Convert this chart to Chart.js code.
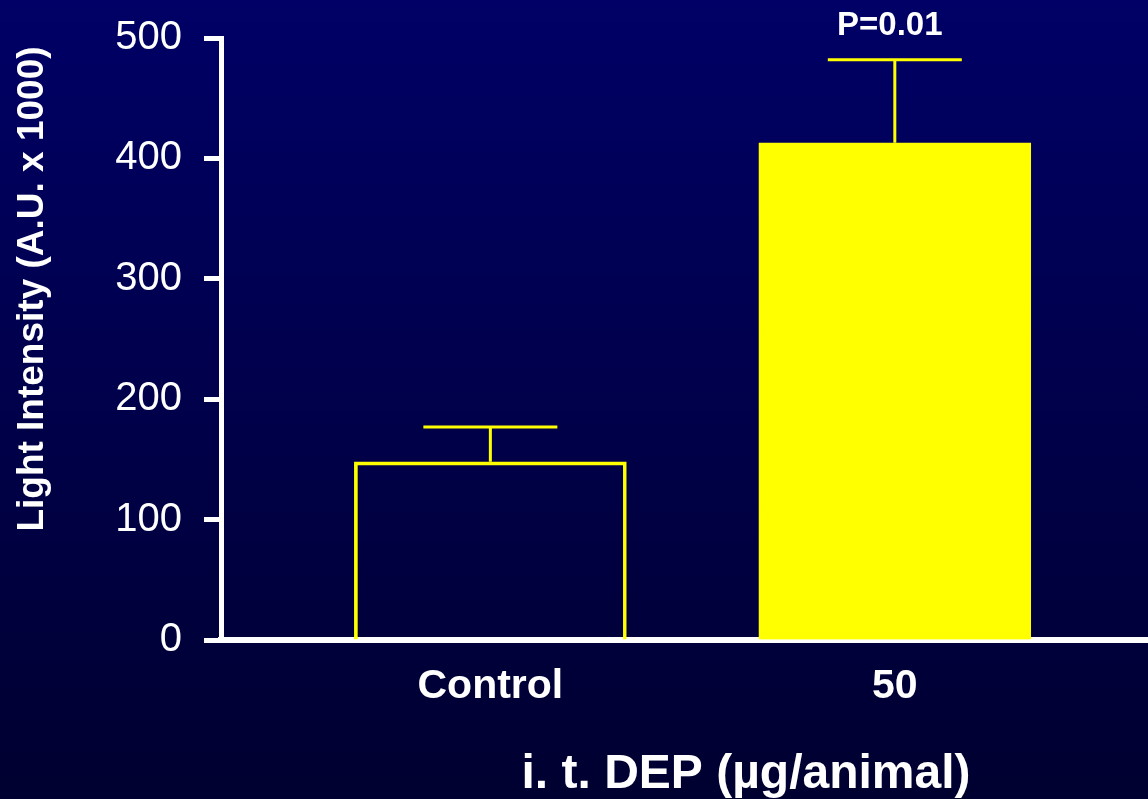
<!DOCTYPE html>
<html>
<head>
<meta charset="utf-8">
<script src="https://cdn.jsdelivr.net/npm/chart.js@4/dist/chart.umd.min.js"></script>
<style>
html,body{margin:0;padding:0;background:#000050;overflow:hidden;}
#c{display:block;}
</style>
</head>
<body>
<canvas id="c" width="1148" height="799"></canvas>
<script>
// ---- data ----
const categories = ['Control', '50'];
const means = [148, 413];
const upperErrors = [177, 482];
const yTickValues = [0, 100, 200, 300, 400, 500];
const pLabel = 'P=0.01';
const yTitle = 'Light Intensity (A.U. x 1000)';
const xTitle = 'i. t. DEP (µg/animal)';

const FONT = "'Liberation Sans', Arial, sans-serif";
const YELLOW = '#ffff00';

const bgPlugin = {
  id: 'bg',
  beforeDraw(chart) {
    const {ctx, width, height} = chart;
    const g = ctx.createLinearGradient(0, 0, 0, height);
    g.addColorStop(0, '#000066');
    g.addColorStop(1, '#000030');
    ctx.save();
    ctx.fillStyle = g;
    ctx.fillRect(0, 0, width, height);
    ctx.restore();
  }
};

const errPlugin = {
  id: 'err',
  afterDatasetsDraw(chart) {
    const {ctx} = chart;
    const xs = chart.scales.x, ys = chart.scales.y;
    ctx.save();
    ctx.strokeStyle = YELLOW;
    ctx.lineWidth = 3;
    categories.forEach((c, i) => {
      const x = xs.getPixelForValue(i);
      const yb = ys.getPixelForValue(means[i]);
      const yt = ys.getPixelForValue(upperErrors[i]);
      ctx.beginPath();
      ctx.moveTo(x, yb);
      ctx.lineTo(x, yt);
      ctx.moveTo(x - 67, yt);
      ctx.lineTo(x + 67, yt);
      ctx.stroke();
    });
    ctx.restore();
  }
};

const textPlugin = {
  id: 'texts',
  afterDraw(chart) {
    const {ctx} = chart;
    const xs = chart.scales.x;
    ctx.save();
    ctx.fillStyle = '#ffffff';
    ctx.textAlign = 'center';
    ctx.textBaseline = 'alphabetic';
    // P label
    ctx.font = 'bold 33px ' + FONT;
    ctx.fillText(pLabel, xs.getPixelForValue(1) - 5, 35);
    // x title
    ctx.font = 'bold 48px ' + FONT;
    ctx.fillText(xTitle, 746, 788);
    // y title
    ctx.font = 'bold 37px ' + FONT;
    ctx.translate(43, 289);
    ctx.rotate(-Math.PI / 2);
    ctx.fillText(yTitle, 0, 0);
    ctx.restore();
  }
};

new Chart(document.getElementById('c'), {
  type: 'bar',
  data: {
    datasets: [{
      data: categories.map((c, i) => ({x: i, y: means[i]})),
      backgroundColor: ['rgba(0,0,0,0)', YELLOW],
      borderColor: YELLOW,
      borderWidth: 3,
      borderSkipped: 'bottom',
      barThickness: 272
    }]
  },
  options: {
    responsive: false,
    animation: false,
    devicePixelRatio: 1,
    layout: {padding: {top: 38, left: 0, right: 0, bottom: 0}},
    plugins: {legend: {display: false}, tooltip: {enabled: false}},
    scales: {
      x: {
        type: 'linear',
        offset: false,
        min: -0.666,
        max: 1.626,
        afterBuildTicks(scale) {
          scale.ticks = categories.map((c, i) => ({value: i}));
        },
        afterFit(scale) { scale.height = 159; scale.paddingLeft = 0; scale.paddingRight = 0; },
        grid: {display: false, drawTicks: false, offset: false},
        border: {display: true, color: '#ffffff', width: 6},
        ticks: {
          autoSkip: false,
          maxRotation: 0,
          color: '#ffffff',
          padding: 22,
          font: {family: FONT, size: 41, weight: 'bold'},
          callback: (v) => categories[v]
        }
      },
      y: {
        min: 0,
        max: 500,
        afterBuildTicks(scale) {
          scale.ticks = yTickValues.map(v => ({value: v}));
        },
        afterFit(scale) { scale.width = 221; scale.paddingTop = 0; scale.paddingBottom = 0; },
        grid: {drawOnChartArea: false, drawTicks: true, tickLength: 17, tickWidth: 5, tickColor: '#ffffff', color: '#ffffff'},
        border: {display: true, color: '#ffffff', width: 5},
        ticks: {
          color: '#ffffff',
          padding: 22,
          font: {family: FONT, size: 40}
        }
      }
    }
  },
  plugins: [bgPlugin, errPlugin, textPlugin]
});
</script>
</body>
</html>
